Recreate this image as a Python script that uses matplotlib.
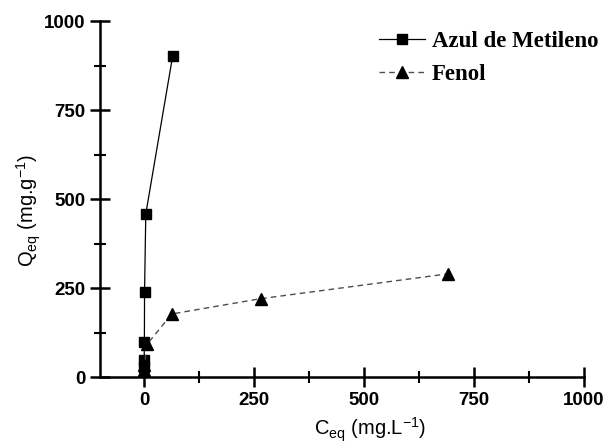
import matplotlib
matplotlib.use('Agg')
import matplotlib.pyplot as plt

plt.rcParams['font.family'] = 'Liberation Sans'
plt.rcParams['mathtext.default'] = 'regular'

# isotherm data
azul_c = [0.2, 0.4, 0.8, 1.2, 4, 65]
azul_q = [28, 48, 98, 240, 458, 901]

fenol_c = [0.3, 1, 7, 63, 265, 692]
fenol_q = [20, 33, 92, 177, 220, 290]

fig = plt.figure(figsize=(6.04, 4.46), dpi=100)
ax = fig.add_axes([0.1656, 0.1547, 0.8013, 0.7982])

ax.plot(azul_c, azul_q, color='black', lw=0.9, marker='s', ms=7,
        label='Azul de Metileno', clip_on=False, zorder=3)
ax.plot(fenol_c, fenol_q, color='0.3', lw=1.0, ls=(0, (4, 3)), marker='^', ms=9,
        mfc='black', mec='black', label='Fenol', clip_on=False, zorder=3)

ax.set_xlim(-100, 1000)
ax.set_ylim(0, 1000)
ax.set_xticks([0, 250, 500, 750, 1000])
ax.set_yticks([0, 250, 500, 750, 1000])
ax.set_xticks([125, 375, 625, 875], minor=True)
ax.set_yticks([125, 375, 625, 875], minor=True)

for s in ['top', 'right']:
    ax.spines[s].set_visible(False)
for s in ['left', 'bottom']:
    ax.spines[s].set_linewidth(1.8)

ax.tick_params(which='major', direction='inout', length=14, width=1.8, pad=3.5)
ax.tick_params(which='minor', direction='inout', length=8, width=1.5)
for lab in ax.get_xticklabels() + ax.get_yticklabels():
    lab.set_fontweight('bold')
    lab.set_fontsize(13.5)

ax.set_xlabel(r'C$_{eq}$ (mg.L$^{-1}$)', fontsize=14.5)
ax.set_ylabel(r'Q$_{eq}$ (mg.g$^{-1}$)', fontsize=14.5)
ax.xaxis.set_label_coords(0.558, -0.108)
ax.yaxis.set_label_coords(-0.118, 0.469)

ax.legend(loc='upper left', bbox_to_anchor=(379 / 604, 1 - 31 / 446),
          bbox_transform=fig.transFigure, frameon=False,
          prop={'family': 'Liberation Serif', 'weight': 'bold', 'size': 16.5},
          handlelength=2.0, handletextpad=0.3, labelspacing=0.5,
          borderpad=0, borderaxespad=0)

plt.savefig('out.png', dpi=100)
